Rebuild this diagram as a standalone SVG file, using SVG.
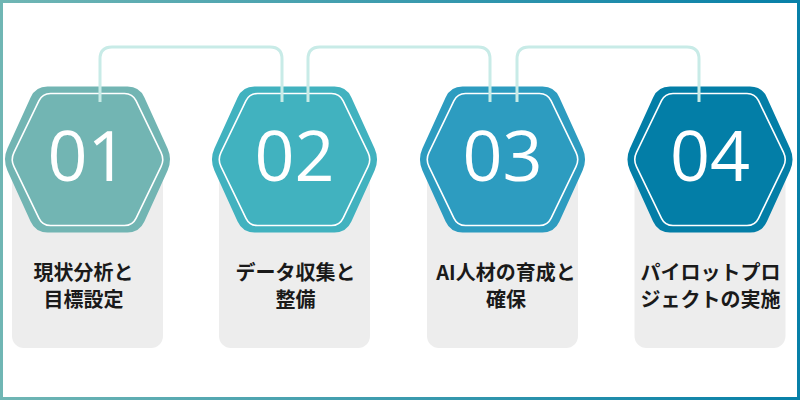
<svg xmlns="http://www.w3.org/2000/svg" xmlns:xlink="http://www.w3.org/1999/xlink" width="800" height="400" viewBox="0 0 800 400">
  <defs>
    <linearGradient id="frameGrad" x1="0" y1="0" x2="1" y2="0">
      <stop offset="0" stop-color="#70b6b4"/>
      <stop offset="1" stop-color="#0780a8"/>
    </linearGradient>
    <path id="hexOuter" d="M -40,-73 L 40,-73 Q 52,-73 56.9,-62.1 L 80.1,-10.9 Q 85,0 80.1,10.9 L 56.9,62.1 Q 52,73 40,73 L -40,73 Q -52,73 -56.9,62.1 L -80.1,10.9 Q -85,0 -80.1,-10.9 L -56.9,-62.1 Q -52,-73 -40,-73 Z"/>
    <path id="hexInner" d="M -37,-66 L 37,-66 Q 45,-66 48.5,-58.8 L 73.5,-7.2 Q 77,0 73.5,7.2 L 48.5,58.8 Q 45,66 37,66 L -37,66 Q -45,66 -48.5,58.8 L -73.5,7.2 Q -77,0 -73.5,-7.2 L -48.5,-58.8 Q -45,-66 -37,-66 Z"/>
    <clipPath id="cardClip" clipPathUnits="userSpaceOnUse">
      <rect x="-75.5" y="150" width="151" height="198" rx="12"/>
    </clipPath>
  </defs>
  <style>
    .card { fill: #ededed; }
    .shadow { fill: #dcdcdc; }
    .inner { fill: none; stroke: #ffffff; stroke-width: 1.6; }
    .num { font-family: "Open Sans", "Noto Sans", "DejaVu Sans", sans-serif; font-size: 70px; fill: #ffffff; text-anchor: middle; }
    .label { font-family: "Noto Sans CJK JP", "Noto Sans", sans-serif; font-size: 20px; font-weight: bold; fill: #1a1a1a; text-anchor: middle; }
    .conn { fill: none; stroke: #c8ebe7; stroke-width: 3; }
  </style>

  <rect x="0" y="0" width="800" height="400" fill="#ffffff"/>
  <rect x="1.5" y="1.5" width="797" height="397" fill="none" stroke="url(#frameGrad)" stroke-width="3"/>

  <g id="node1" transform="translate(87.5,0)">
    <rect class="card" x="-75.5" y="150" width="151" height="198" rx="12"/>
    <use xlink:href="#hexOuter" class="shadow" transform="translate(0,169.5)" clip-path="url(#cardClip)"/>
    <use xlink:href="#hexOuter" fill="#72b5b3" transform="translate(0,159.5)"/>
    <use xlink:href="#hexInner" class="inner" transform="translate(0,159.5)"/>
    <text class="num" x="0" y="181">01</text>
    <text class="label" x="-4" y="280">現状分析と</text>
    <text class="label" x="-4" y="307">目標設定</text>
  </g>

  <g id="node2" transform="translate(294.5,0)">
    <rect class="card" x="-75.5" y="150" width="151" height="198" rx="12"/>
    <use xlink:href="#hexOuter" class="shadow" transform="translate(0,169.5)" clip-path="url(#cardClip)"/>
    <use xlink:href="#hexOuter" fill="#41b2bf" transform="translate(0,159.5)"/>
    <use xlink:href="#hexInner" class="inner" transform="translate(0,159.5)"/>
    <text class="num" x="0" y="181">02</text>
    <text class="label" x="1" y="280">データ収集と</text>
    <text class="label" x="1" y="307">整備</text>
  </g>

  <g id="node3" transform="translate(502.5,0)">
    <rect class="card" x="-75.5" y="150" width="151" height="198" rx="12"/>
    <use xlink:href="#hexOuter" class="shadow" transform="translate(0,169.5)" clip-path="url(#cardClip)"/>
    <use xlink:href="#hexOuter" fill="#2d9cc0" transform="translate(0,159.5)"/>
    <use xlink:href="#hexInner" class="inner" transform="translate(0,159.5)"/>
    <text class="num" x="0" y="181">03</text>
    <text class="label" x="3.5" y="280">AI人材の育成と</text>
    <text class="label" x="3.5" y="307">確保</text>
  </g>

  <g id="node4" transform="translate(710,0)">
    <rect class="card" x="-75.5" y="150" width="151" height="198" rx="12"/>
    <use xlink:href="#hexOuter" class="shadow" transform="translate(0,169.5)" clip-path="url(#cardClip)"/>
    <use xlink:href="#hexOuter" fill="#037ea7" transform="translate(0,159.5)"/>
    <use xlink:href="#hexInner" class="inner" transform="translate(0,159.5)"/>
    <text class="num" x="0" y="181">04</text>
    <text class="label" x="0.5" y="280">パイロットプロ</text>
    <text class="label" x="0.5" y="307">ジェクトの実施</text>
  </g>

  <g id="connectors">
    <path class="conn" d="M 100,102 V 59 Q 100,47 112,47 H 270 Q 282,47 282,59 V 102"/>
    <path class="conn" d="M 308,102 V 59 Q 308,47 320,47 H 478 Q 490,47 490,59 V 102"/>
    <path class="conn" d="M 517,102 V 59 Q 517,47 529,47 H 687 Q 699,47 699,59 V 102"/>
  </g>
</svg>
